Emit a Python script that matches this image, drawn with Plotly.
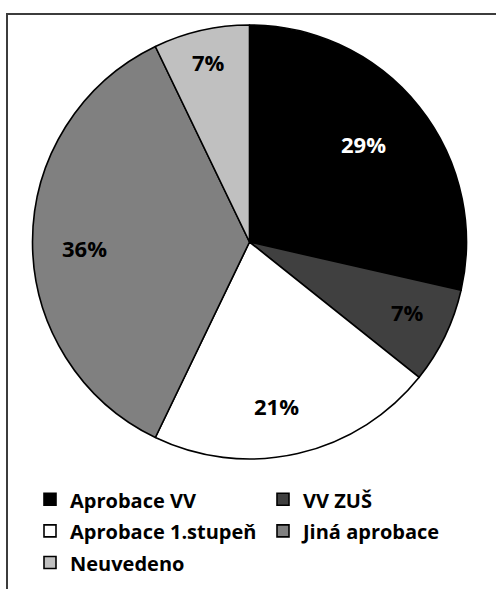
import math
import plotly.graph_objects as go

categories = ["Aprobace VV", "VV ZUŠ", "Aprobace 1.stupeň", "Jiná aprobace", "Neuvedeno"]
counts = [4, 1, 3, 5, 1]
colors = ["#000000", "#404040", "#ffffff", "#808080", "#c0c0c0"]
text_colors = ["#ffffff", "#000000", "#000000", "#000000", "#000000"]

W, H = 496, 589
FONT = "Open Sans"

# pie geometry (pixels) and label placement (fraction of radius, angle nudge in degrees)
CX, CY, R = 249.5, 242.0, 217.0
label_radius = [0.691, 0.797, 0.764, 0.759, 0.851]
label_angle_nudge = [-2.2, -1.7, 3.5, -2.1, 0.0]

legend_labels = [f"<span style='font-size:20px'>{c}</span>" for c in categories]

fig = go.Figure(go.Pie(
    labels=legend_labels,
    values=counts,
    sort=False,
    direction="clockwise",
    rotation=0,
    marker=dict(colors=colors, line=dict(color="#000000", width=1.6)),
    textinfo="none",
    domain=dict(x=[(CX - R) / W, (CX + R) / W], y=[1 - (CY + R) / H, 1 - (CY - R) / H]),
    hovertext=categories,
    hoverinfo="text+percent",
))

# percentage labels placed at each slice's mid-angle
total = sum(counts)
annotations = []
cum = 0
for v, tc, f, nd in zip(counts, text_colors, label_radius, label_angle_nudge):
    mid = (cum + v / 2) / total * 2 * math.pi + math.radians(nd)
    cum += v
    px = CX + f * R * math.sin(mid)
    py = CY - f * R * math.cos(mid)
    annotations.append(dict(
        x=px / W, y=1 - py / H, xref="paper", yref="paper",
        text=f"{round(v / total * 100)}%", showarrow=False,
        xanchor="center", yanchor="middle",
        font=dict(family=FONT, size=22, color=tc, weight="bold"),
    ))

fig.update_layout(
    width=W, height=H,
    margin=dict(l=0, r=0, t=0, b=0),
    paper_bgcolor="#ffffff",
    showlegend=True,
    annotations=annotations,
    legend=dict(
        orientation="h",
        x=37 / W, xanchor="left",
        y=1 - 478.5 / H, yanchor="top",
        entrywidth=188, entrywidthmode="pixels",
        font=dict(family=FONT, size=22, color="#000000", weight="bold"),
        traceorder="normal",
        itemclick=False,
    ),
    shapes=[dict(
        type="rect", xref="paper", yref="paper",
        x0=7 / W, x1=1.02, y0=-0.02, y1=1 - 14 / H,
        line=dict(color="#3c3c3c", width=2), fillcolor="rgba(0,0,0,0)", layer="below",
    )],
)

fig.write_html("out.html", config={"displayModeBar": False},
               post_script="document.body.style.margin='0px';")
